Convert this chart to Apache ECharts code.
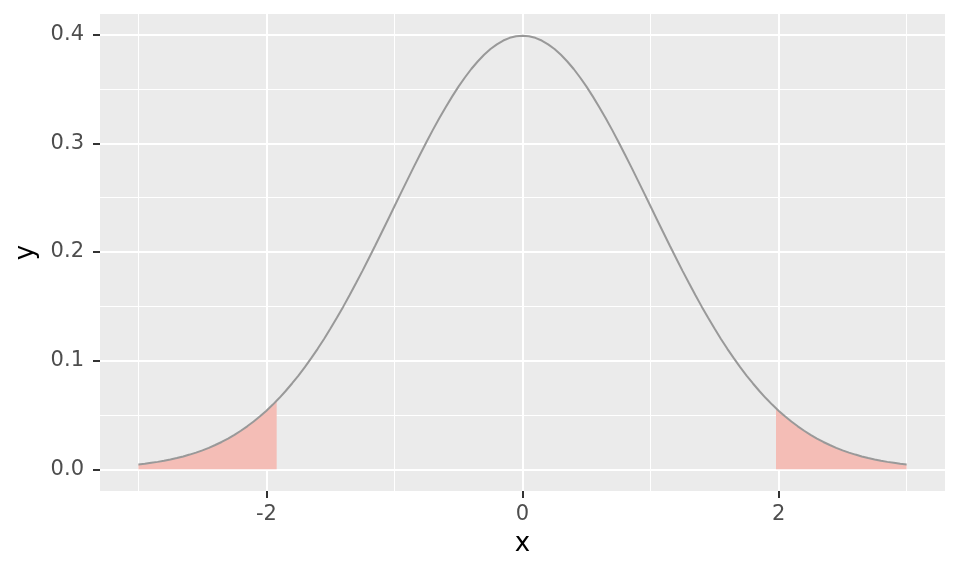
<!DOCTYPE html>
<html>
<head>
<meta charset="utf-8">
<script src="https://cdn.jsdelivr.net/npm/echarts@6/dist/echarts.min.js"></script>
<style>html,body{margin:0;padding:0;background:#fff}#c{width:960px;height:576px}</style>
</head>
<body>
<div id="c"></div>
<script>
// Density curve (right half; left half mirrors it)
const halfX = [0.00,0.05,0.10,0.15,0.20,0.25,0.30,0.35,0.40,0.45,0.50,0.55,0.60,0.65,0.70,0.75,0.80,0.85,0.90,0.95,1.00,1.05,1.10,1.15,1.20,1.25,1.30,1.35,1.40,1.45,1.50,1.55,1.60,1.65,1.70,1.75,1.80,1.85,1.90,1.95,2.00,2.05,2.10,2.15,2.20,2.25,2.30,2.35,2.40,2.45,2.50,2.55,2.60,2.65,2.70,2.75,2.80,2.85,2.90,2.95,3.00];
const halfY = [0.3989,0.3984,0.3970,0.3945,0.3910,0.3867,0.3814,0.3752,0.3683,0.3605,0.3521,0.3429,0.3332,0.3230,0.3123,0.3011,0.2897,0.2780,0.2661,0.2541,0.2420,0.2299,0.2179,0.2059,0.1942,0.1826,0.1714,0.1604,0.1497,0.1394,0.1295,0.1200,0.1109,0.1023,0.0940,0.0863,0.0790,0.0721,0.0656,0.0596,0.0540,0.0488,0.0440,0.0396,0.0355,0.0317,0.0283,0.0252,0.0224,0.0198,0.0175,0.0154,0.0136,0.0119,0.0104,0.0091,0.0079,0.0069,0.0060,0.0051,0.0044];
// Shaded tails
const leftTailX = [-3.0,-2.9,-2.8,-2.7,-2.6,-2.5,-2.4,-2.3,-2.2,-2.1,-2.0,-1.92];
const leftTailY = [0.0044,0.0060,0.0079,0.0104,0.0136,0.0175,0.0224,0.0283,0.0355,0.0440,0.0540,0.0632];
const rightTailX = [1.98,2.0,2.1,2.2,2.3,2.4,2.5,2.6,2.7,2.8,2.9,3.0];
const rightTailY = [0.0562,0.0540,0.0440,0.0355,0.0283,0.0224,0.0175,0.0136,0.0104,0.0079,0.0060,0.0044];
// Ticks
const xMajor = [-2, 0, 2];
const xMinor = [-3, -1, 1, 3];
const yMajor = [0, 0.1, 0.2, 0.3, 0.4];
const yMinor = [0.05, 0.15, 0.25, 0.35];

const curve = [];
for (let i = halfX.length - 1; i > 0; i--) curve.push([-halfX[i], halfY[i]]);
for (let i = 0; i < halfX.length; i++) curve.push([halfX[i], halfY[i]]);

const zip = (a, b) => a.map((v, i) => [v, b[i]]);
const font = 'DejaVu Sans';
const chart = echarts.init(document.getElementById('c'), null, {renderer: 'canvas'});

const gridLine = (vals, key, w) => vals.map(v => ({[key]: v, lineStyle: {color: '#ffffff', width: w, type: 'solid'}}));

chart.setOption({
  animation: false,
  backgroundColor: '#ffffff',
  grid: {left: 100, right: 15, top: 14, bottom: 85, show: true, backgroundColor: '#EBEBEB', borderWidth: 0},
  xAxis: {
    type: 'value', min: -3.3, max: 3.3,
    name: 'x', nameLocation: 'middle', nameGap: 40,
    nameTextStyle: {fontFamily: font, fontSize: 26, color: '#000'},
    axisLine: {show: false, onZero: false},
    axisTick: {show: true, customValues: xMajor, length: 7, lineStyle: {color: '#333333', width: 2}},
    axisLabel: {customValues: xMajor, fontFamily: font, fontSize: 21, color: '#4D4D4D', margin: 13,
      formatter: v => String(v)},
    splitLine: {show: false}
  },
  yAxis: {
    type: 'value', min: -0.0199, max: 0.4189,
    name: 'y', nameLocation: 'middle', nameGap: 57,
    nameTextStyle: {fontFamily: font, fontSize: 26, color: '#000'},
    axisLine: {show: false, onZero: false},
    axisTick: {show: true, customValues: yMajor, length: 7, lineStyle: {color: '#333333', width: 2}},
    axisLabel: {customValues: yMajor, fontFamily: font, fontSize: 21, color: '#4D4D4D', margin: 16,
      formatter: v => v.toFixed(1)},
    splitLine: {show: false}
  },
  series: [
    {
      type: 'line', z: 1, silent: true, symbol: 'none',
      data: [[0, 0]], lineStyle: {opacity: 0},
      markLine: {
        z: 1, silent: true, symbol: 'none', label: {show: false}, animation: false,
        data: [].concat(
          gridLine(xMinor, 'xAxis', 1), gridLine(yMinor, 'yAxis', 1),
          gridLine(xMajor, 'xAxis', 2), gridLine(yMajor, 'yAxis', 2)
        )
      }
    },
    {
      type: 'line', z: 3, silent: true, symbol: 'none', smooth: false,
      data: zip(leftTailX, leftTailY),
      lineStyle: {width: 0, opacity: 0},
      areaStyle: {color: '#F4BDB6', opacity: 1, origin: 0}
    },
    {
      type: 'line', z: 3, silent: true, symbol: 'none', smooth: false,
      data: zip(rightTailX, rightTailY),
      lineStyle: {width: 0, opacity: 0},
      areaStyle: {color: '#F4BDB6', opacity: 1, origin: 0}
    },
    {
      type: 'line', z: 4, silent: true, symbol: 'none', smooth: false,
      data: curve,
      lineStyle: {color: '#999999', width: 2}
    }
  ]
});
</script>
</body>
</html>
